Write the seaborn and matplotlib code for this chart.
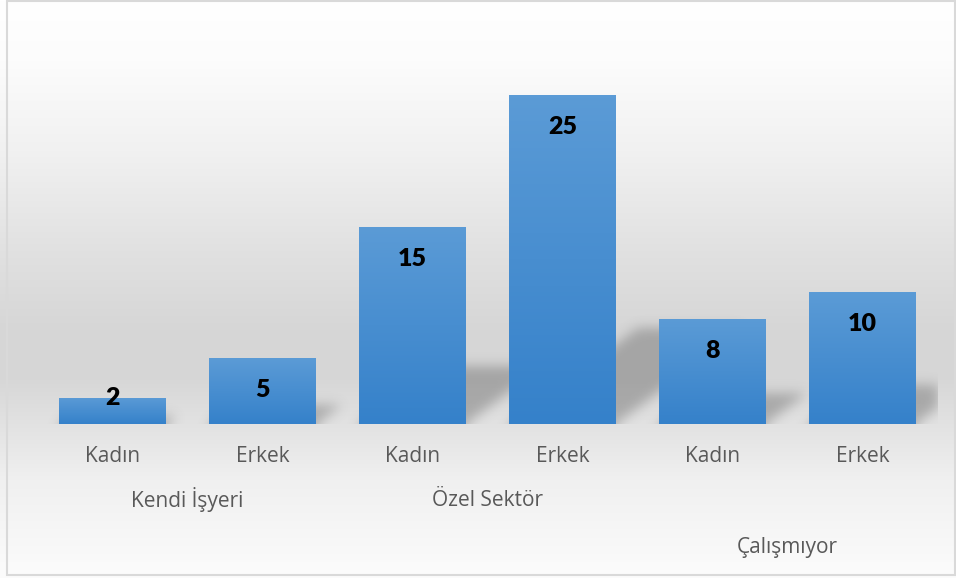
import numpy as np
import pandas as pd
import matplotlib
matplotlib.use("Agg")
import matplotlib.pyplot as plt
import matplotlib.transforms as mtransforms
from matplotlib.path import Path
from matplotlib.patches import Rectangle
import seaborn as sns

groups = ["Kendi İşyeri", "Özel Sektör", "Çalışmıyor"]
genders = ["Kadın", "Erkek", "Kadın", "Erkek", "Kadın", "Erkek"]
counts = [2, 5, 15, 25, 8, 10]

df = pd.DataFrame({"slot": range(len(counts)), "count": counts})

W, H = 956, 578
fig = plt.figure(figsize=(W / 100, H / 100), dpi=100)

# soft grey background gradient (office chart style)
bg = fig.add_axes([0, 0, 1, 1], zorder=0)
stops_y = [0, 60, 150, 250, 330, 380, 424, 480, 578]
stops_v = [255, 252, 241, 225, 214, 215, 226, 240, 252]
col = np.interp(np.arange(H), stops_y, stops_v) / 255
bg.imshow(np.dstack([np.repeat(col[:, None], 2, axis=1)] * 3),
          aspect="auto", extent=(0, 1, 0, 1))
bg.axis("off")

# plot area
ax_px_h = 404
ppu = 13.16  # pixels per unit
ytop = ax_px_h / ppu
ax = fig.add_axes([37.5 / W, (H - 424) / H, 900 / W, ax_px_h / H], zorder=1)
ax.patch.set_alpha(0)

bar_w = 0.713
sns.barplot(data=df, x="slot", y="count", width=bar_w, color="#4a8fd0",
            ax=ax, zorder=3)

# perspective shadows behind the bars
def blur(a, s):
    r = int(3 * s)
    k = np.exp(-0.5 * (np.arange(-r, r + 1) / s) ** 2)
    k /= k.sum()
    a = np.apply_along_axis(lambda m: np.convolve(m, k, mode="same"), 0, a)
    a = np.apply_along_axis(lambda m: np.convolve(m, k, mode="same"), 1, a)
    return a

pad = 20
nx, ny = 900, ax_px_h + pad
xs = np.linspace(-0.5, 5.5, nx)
ys = np.linspace(-pad / ppu, ytop, ny)
gx, gy = np.meshgrid(xs, ys)
pts = np.column_stack([gx.ravel(), gy.ravel()])
mask = np.zeros(gx.size)
for i, v in enumerate(counts):
    x0, x1 = i - bar_w / 2, i + bar_w / 2
    ht = 0.29 * v
    dx = 0.39 * v * ppu / 150
    poly = Path([(x0, -pad / ppu), (x1, -pad / ppu), (x1, 0), (x1 + dx, ht),
                 (x0 + dx, ht), (x0, 0)])
    mask = np.maximum(mask, poly.contains_points(pts))
mask = blur(mask.reshape(gy.shape), 6)
shadow = np.zeros((ny, nx, 4))
shadow[..., :3] = 0.33
shadow[..., 3] = mask * 0.38
ax.imshow(shadow, extent=(-0.5, 5.5, -pad / ppu, ytop), origin="lower",
          aspect="auto", zorder=2)

# vertical gradient inside each bar
top_c = np.array([0x5b, 0x9b, 0xd6]) / 255
bot_c = np.array([0x35, 0x81, 0xca]) / 255
t = np.linspace(0, 1, 100)[:, None]
grad = (top_c * (1 - t) + bot_c * t)[:, None, :]
for p in ax.patches:
    x, w, h = p.get_x(), p.get_width(), p.get_height()
    im = ax.imshow(grad, extent=(x, x + w, 0, h), aspect="auto", zorder=4)
    im.set_clip_path(p)

ax.set_xlim(-0.5, 5.5)
ax.set_ylim(0, ytop)

for i, v in enumerate(counts):
    off = 32 / ppu
    yl = v - off if v > 2 * off else v
    ax.text(i, yl, str(v), ha="center", va="center", fontsize=18,
            fontweight="heavy", family="Lato", color="black", zorder=5)

ax.set_xticks(range(len(genders)))
ax.set_xticklabels(genders, color="#595959", fontsize=15, family="Open Sans")
ax.tick_params(length=0, pad=16)
ax.set_yticks([])
ax.set_xlabel("")
ax.set_ylabel("")
sns.despine(ax=ax, left=True, bottom=True)

tr = mtransforms.blended_transform_factory(ax.transData, fig.transFigure)
for g, gx_, gy_ in zip(groups, [0.5, 2.5, 4.5], [500, 500, 548]):
    fig.text(gx_, 1 - gy_ / H, g, transform=tr, ha="center", va="center",
             color="#595959", fontsize=15, family="Open Sans")

fig.patches.append(Rectangle((7 / W, 3 / H), 948 / W, 574 / H,
                             transform=fig.transFigure, fill=False,
                             ec="#d9d9d9", lw=1.5, zorder=10))

fig.savefig("out.png", dpi=100)
